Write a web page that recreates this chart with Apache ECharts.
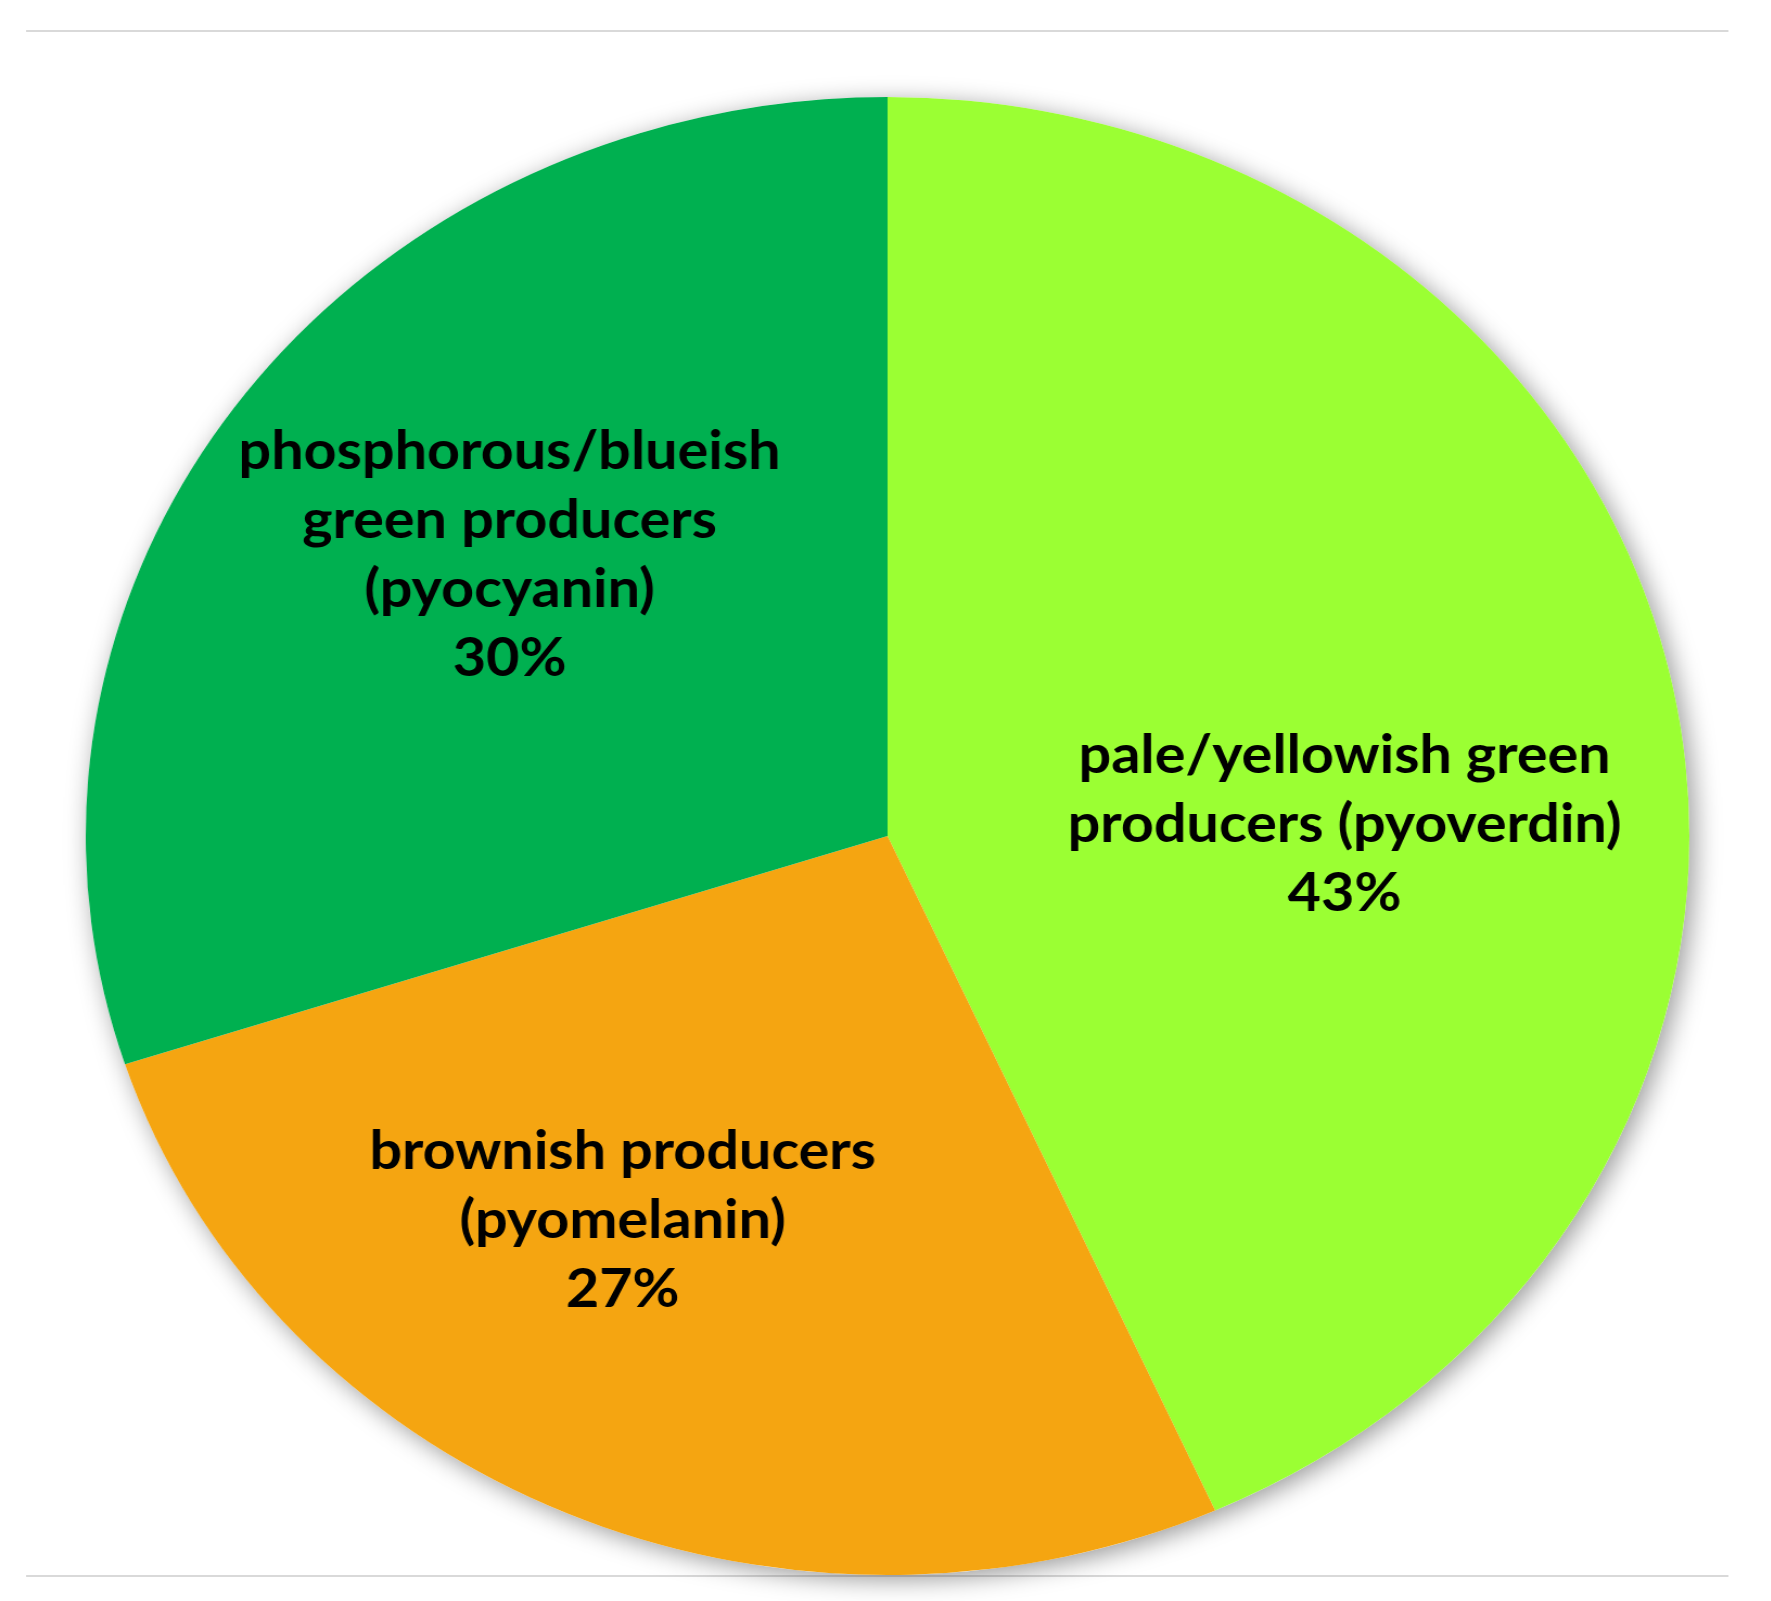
<!DOCTYPE html>
<html>
<head>
<meta charset="utf-8">
<script src="https://cdn.jsdelivr.net/npm/echarts@6/dist/echarts.min.js"></script>
<style>
html,body{margin:0;padding:0;background:#fff;overflow:hidden;}
#chart{width:1632px;height:1601px;transform:scaleX(1.085);transform-origin:0 0;}
</style>
</head>
<body>
<div id="chart"></div>
<script>
const categories = [
  "pale/yellowish green\nproducers (pyoverdin)",
  "brownish producers\n(pyomelanin)",
  "phosphorous/blueish\ngreen producers\n(pyocyanin)"
];
const values = [43.3, 26.7, 30];
const colors = ["#9BFF33", "#F5A511", "#00B050"];
const labelOffsets = [[57, 67], [-93, 44], [-47, -62]];

const chart = echarts.init(document.getElementById('chart'), null, {renderer: 'canvas'});
const center = [818, 836];
const radius = 739;
chart.setOption({
  animation: false,
  graphic: [
    {type: 'line', shape: {x1: 24, y1: 31, x2: 1593, y2: 31}, style: {stroke: '#d9d9d9', lineWidth: 2}},
    {type: 'line', shape: {x1: 24, y1: 1576, x2: 1593, y2: 1576}, style: {stroke: '#d9d9d9', lineWidth: 2}}
  ],
  series: [
    {
      type: 'pie', silent: true, center: center, radius: radius, z: 1,
      label: {show: false}, labelLine: {show: false},
      itemStyle: {color: '#ffffff', shadowBlur: 24, shadowColor: 'rgba(0,0,0,0.4)', shadowOffsetX: 5, shadowOffsetY: 5},
      data: [{value: 1, name: 'bg'}]
    },
    {
      type: 'pie', center: center, radius: radius, startAngle: 90, clockwise: true, z: 2,
      percentPrecision: 0,
      itemStyle: {borderWidth: 0},
      label: {
        show: true, position: 'inside', formatter: '{b}\n{d}%',
        fontFamily: 'Lato', fontWeight: 'bold', fontSize: 53, lineHeight: 69,
        color: '#000', align: 'center'
      },
      labelLine: {show: false},
      data: categories.map((c, i) => ({
        name: c, value: values[i],
        itemStyle: {color: colors[i]},
        label: {offset: labelOffsets[i]}
      }))
    }
  ]
});
</script>
</body>
</html>
